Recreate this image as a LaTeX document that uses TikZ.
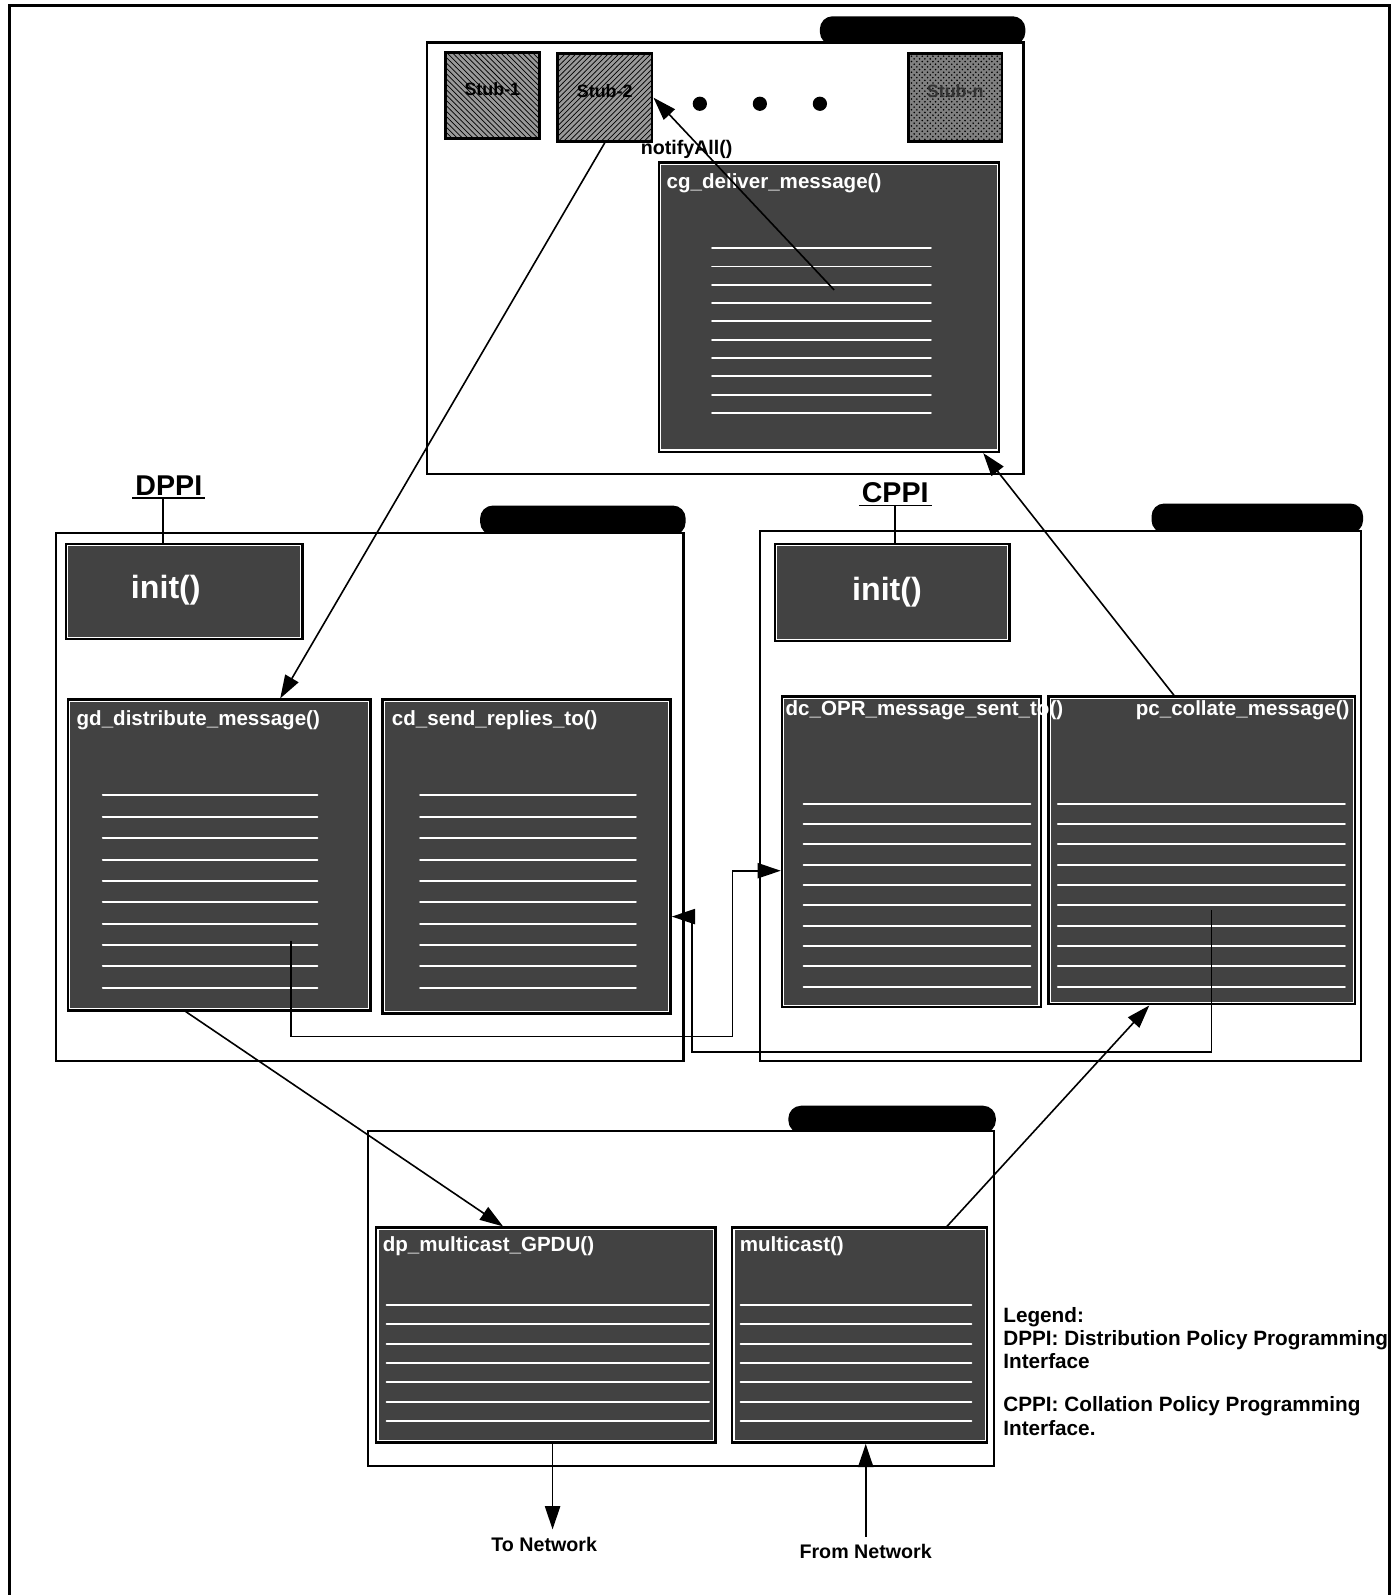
\documentclass[tikz,border=0pt]{standalone}
\usepackage{fontspec}
\setmainfont{Liberation Sans}
\usetikzlibrary{arrows.meta,calc,fit,patterns}

\begin{document}
\begin{tikzpicture}[x=0.02cm,y=-0.02cm,
    comp/.style={draw,line width=1.4pt,fill=white,inner sep=0pt},
    tab/.style={fill=black,rounded corners=0.25cm},
    dk/.style={draw,line width=1.6pt,fill=black!74,inner sep=0pt},
    stubbox/.style={draw,line width=1.6pt,fill=black!40,inner sep=0pt,font=\fontsize{10}{12}\selectfont\bfseries},
    ttl/.style={white,anchor=west,inner sep=0pt,font=\fontsize{11.5}{13}\selectfont\bfseries},
    bigttl/.style={white,inner sep=0pt,font=\fontsize{18}{20}\selectfont\bfseries},
    code/.style={white,line width=1.1pt,line cap=round},
    wire/.style={line width=0.9pt},
    arr/.style={wire,-{Triangle[length=13pt,width=8.5pt]}},
    iface/.style={inner sep=1.5pt,font=\fontsize{16}{18}\selectfont\bfseries},
    lbl/.style={inner sep=4pt,font=\fontsize{11}{13}\selectfont\bfseries}]
    \useasboundingbox (0,0) rectangle (1374,1568);
    \draw[line width=1.6pt] (9,1575) |- (1366,5) -- (1366,1575);

    % components, each with its tab
    \fill[tab] (806,16) rectangle (1008,44);
    \fill[tab] (472,497) rectangle (674,526);
    \fill[tab] (1132,495) rectangle (1340,524);
    \fill[tab] (775,1087) rectangle (979,1114);
    \node[comp,fit={(420,42) (1006,466)}] (grp) {};
    \node[comp,fit={(55,524) (672,1043)}] (dist) {};
    \node[comp,fit={(747,522) (1338,1043)}] (coll) {};
    \node[comp,fit={(362,1112) (977,1441)}] (comm) {};

    % stubs
    \node[stubbox,postaction={pattern=north west lines},fit={(438,52) (530,136)}] (stubone) {Stub-1};
    \node[stubbox,postaction={pattern=north east lines},fit={(548,53) (641,139)}] (stubtwo) {Stub-2};
    \node[stubbox,fill=black!50,postaction={pattern=crosshatch dots},fit={(893,53) (985,139)},text=black!80] (stubn) {Stub-n};
    \foreach \x in {688,747,806}
        \fill (\x,102) circle[radius=7];

    % methods
    \node[dk,fit={(648,160) (982,444)}] (cg) {};
    \node[dk,fit={(65,535) (297,628)}] (initd) {};
    \node[dk,fit={(67,688) (364,993)}] (gd) {};
    \node[dk,fit={(376,688) (659,996)}] (cd) {};
    \node[dk,fit={(762,535) (992,630)}] (initc) {};
    \node[dk,fit={(769,685) (1023,990)}] (dc) {};
    \node[dk,fit={(1031,685) (1332,987)}] (pc) {};
    \node[dk,fit={(370,1207) (703,1418)}] (dp) {};
    \node[dk,fit={(720,1207) (970,1418)}] (mc) {};
    \foreach \b in {cg,initd,gd,cd,initc,dc,pc,dp,mc}
        \draw[white,line width=0.6pt] ([shift={(3,3)}]\b.north west) rectangle ([shift={(-3,-3)}]\b.south east);

    % code lines
    \foreach \y in {244,262,...,410}
        \draw[code] (700,\y) -- (915,\y);
    \foreach \y in {782,803,...,975} {
        \draw[code] (101,\y) -- (312,\y);
        \draw[code] (413,\y) -- (625,\y);
    }
    \foreach \y in {790,810,...,975} {
        \draw[code] (790,\y) -- (1013,\y);
        \draw[code] (1040,\y) -- (1322,\y);
    }
    \foreach \y in {1283,1302,...,1400} {
        \draw[code] (380,\y) -- (697,\y);
        \draw[code] (728,\y) -- (955,\y);
    }

    \node[bigttl] at (163,580) {init()};
    \node[bigttl] at (872,582) {init()};
    \node[ttl] at (655,180) {cg\_deliver\_message()};
    \node[ttl] at (75,708) {gd\_distribute\_message()};
    \node[ttl] at (385,708) {cd\_send\_replies\_to()};
    \node[ttl] at (772,698) {dc\_OPR\_message\_sent\_to()};
    \node[ttl,anchor=east] at (1327,698) {pc\_collate\_message()};
    \node[ttl] at (376,1225) {dp\_multicast\_GPDU()};
    \node[ttl] at (727,1225) {multicast()};

    % interfaces
    \node[iface] (dppi) at (166,477) {DPPI};
    \draw[wire] (dppi.south west) -- (dppi.south east);
    \draw[wire] ([xshift=-0.12cm]dppi.south) -- ([xshift=-0.12cm]dppi.south |- initd.north);
    \node[iface] (cppi) at (880,484) {CPPI};
    \draw[wire] (cppi.south west) -- (cppi.south east);
    \draw[wire] (cppi.south) -- (cppi.south |- initc.north);

    % calls
    \coordinate (notifysrc) at (820,285);
    \node[inner sep=0pt,font=\fontsize{11}{13}\selectfont\bfseries] (notify) at (675,147) {notifyAll()};
    \draw[arr] (notifysrc) -- (stubtwo.east);
    \draw[arr] (stubtwo.south) -- ($(gd.north west)!0.7!(gd.north east)$);
    \draw[arr] ($(pc.north west)!0.41!(pc.north east)$) -- ($(cg.south west)!0.95!(cg.south east)$);
    \draw[arr] ($(gd.south west)!0.39!(gd.south east)$) -- ($(dp.north west)!0.375!(dp.north east)$);
    \draw[arr] ($(mc.north west)!0.84!(mc.north east)$) -- ($(pc.south west)!0.33!(pc.south east)$);

    \coordinate (gdsrc) at (286,925);
    \coordinate (busa) at (720,1019);
    \draw[arr] (gdsrc) |- (busa) |- ($(dc.north west)!0.56!(dc.south west)$);
    \coordinate (pcsrc) at (1191,895);
    \coordinate (busb) at (680,1034);
    \draw[arr] (pcsrc) |- (busb) |- ($(cd.north east)!0.69!(cd.south east)$);

    % network
    \node[lbl] (tonet) at (535,1518) {To Network};
    \node[lbl] (fromnet) at (851,1525) {From Network};
    \coordinate (dpout) at ($(dp.south west)!0.52!(dp.south east)$);
    \draw[arr] (dpout) -- (dpout |- tonet.north);
    \coordinate (mcin) at ($(mc.south west)!0.524!(mc.south east)$);
    \draw[arr] (fromnet.north -| mcin) -- (mcin);

    \node[anchor=north west,align=left,inner sep=0pt,font=\fontsize{11.6}{13}\selectfont\bfseries] (legend) at (986,1285)
        {Legend:\\DPPI: Distribution Policy Programming\\Interface\\[11pt]CPPI: Collation Policy Programming\\Interface.};
\end{tikzpicture}
\end{document}
